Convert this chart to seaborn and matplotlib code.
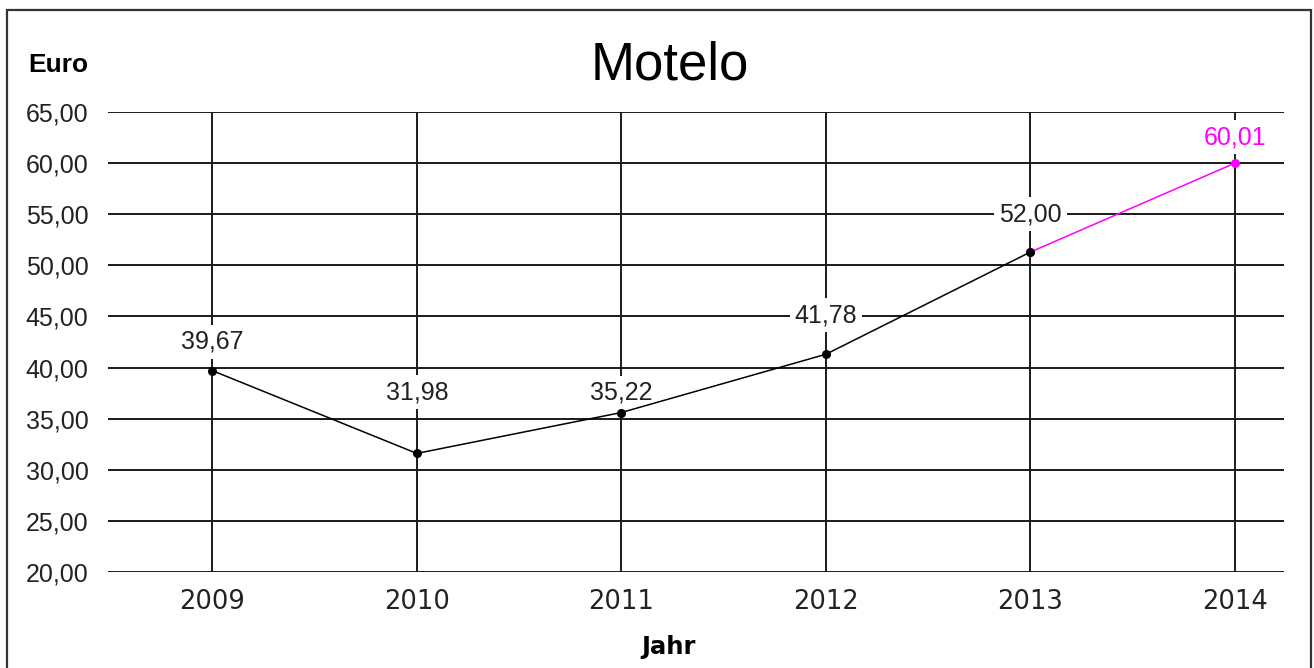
import matplotlib
matplotlib.use("Agg")
import matplotlib.pyplot as plt
import seaborn as sns
import pandas as pd
from matplotlib.patches import Rectangle

# values
years        = [2009, 2010, 2011, 2012, 2013, 2014]
prices       = [39.7, 31.6, 35.6, 41.3, 51.3, 60.0]
price_labels = ["39,67", "31,98", "35,22", "41,78", "52,00", "60,01"]
ytick_values = [20, 25, 30, 35, 40, 45, 50, 55, 60, 65]
ytick_labels = ["20,00", "25,00", "30,00", "35,00", "40,00",
                "45,00", "50,00", "55,00", "60,00", "65,00"]

# how far each label sits above its point (pixels)
label_lift = [29, 61, 20, 39, 38, 26]

sns.set_theme(style="white")
plt.rcParams["font.family"] = ["Liberation Sans", "DejaVu Sans"]

df = pd.DataFrame({"Jahr": years, "Euro": prices})
actual   = df[df["Jahr"] <= 2013]
forecast = df[df["Jahr"] >= 2013]

fig = plt.figure(figsize=(13.14, 6.68), dpi=100)
ax  = fig.add_axes([108 / 1314, 1 - 572 / 668, 1176 / 1314, 460 / 668])

sns.lineplot(data=forecast, x="Jahr", y="Euro", ax=ax, color="#ff00ff",
             linewidth=1.1, marker="o", markersize=6.5, markeredgewidth=0, zorder=3)
sns.lineplot(data=actual, x="Jahr", y="Euro", ax=ax, color="black",
             linewidth=1.1, marker="o", markersize=6.5, markeredgewidth=0, zorder=3)

ax.set_xlim(2008.49, 2014.24)
ax.set_ylim(20, 65)
ax.set_xticks(years)
ax.set_xticklabels([str(y) for y in years], family="DejaVu Sans",
                   fontsize=18.5, color="#222222")
ax.set_yticks(ytick_values)
ax.set_yticklabels(ytick_labels, fontsize=18, color="#222222")
ax.tick_params(axis="x", length=0, pad=12)
ax.tick_params(axis="y", length=0, pad=14)
ax.grid(True, color="#1a1a1a", linewidth=1.4)
ax.set_axisbelow(True)
for side in ax.spines.values():
    side.set_visible(False)
ax.set_xlabel("")
ax.set_ylabel("")
ax.set_facecolor("none")

for i, (x, y, txt) in enumerate(zip(years, prices, price_labels)):
    col = "#ff00ff" if x == 2014 else "#222222"
    ax.annotate(txt, (x, y), xytext=(0, label_lift[i]), textcoords="offset pixels",
                ha="center", va="center", fontsize=18, color=col, zorder=2.5,
                bbox=dict(boxstyle="square,pad=0.2", fc="white", ec="none"))

fig.text(670 / 1314, 1 - 80 / 668, "Motelo", ha="center", va="baseline",
         fontsize=38, color="black")
fig.text(28 / 1314, 1 - 72 / 668, "Euro", ha="left", va="baseline",
         fontsize=19, fontweight="bold", color="black")
fig.text(668 / 1314, 1 - 647 / 668, "Jahr", ha="center", va="center",
         family="DejaVu Sans", fontsize=17.5, fontweight="bold", color="black")

fig.patches.append(Rectangle((7 / 1314, -0.05), 1304 / 1314, 1.05 - 10 / 668,
                             transform=fig.transFigure, fill=False,
                             edgecolor="#333333", linewidth=1.6))

fig.savefig("out.png", dpi=100, facecolor="white")
plt.close(fig)
